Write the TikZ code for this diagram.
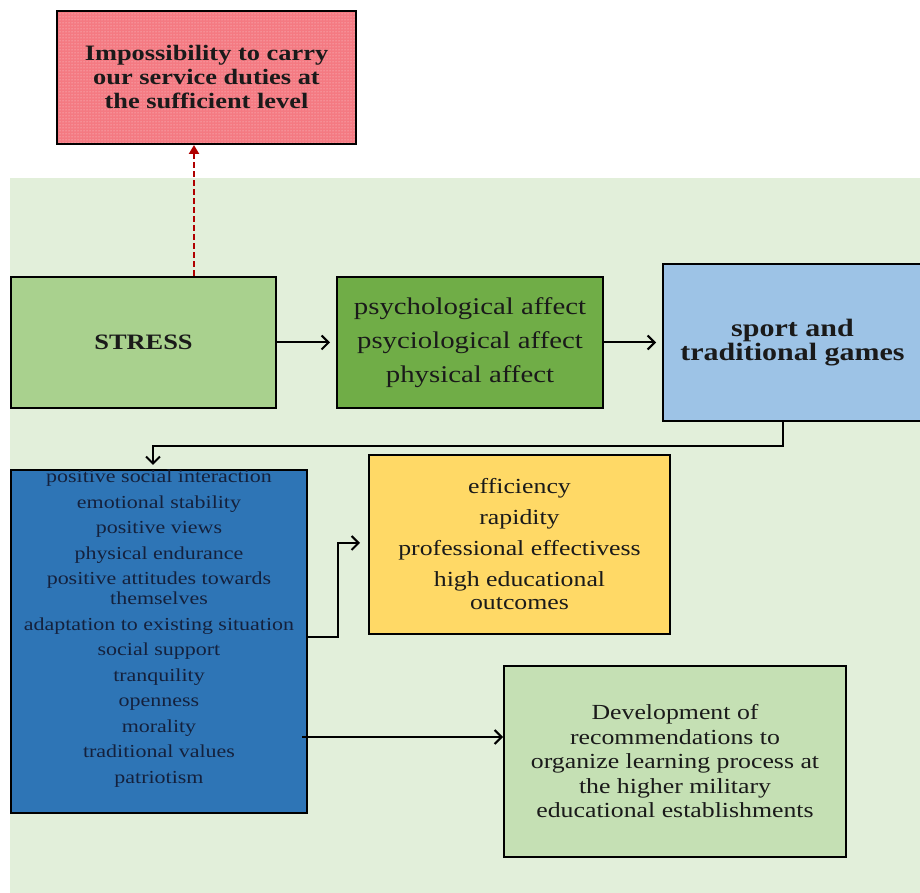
\documentclass[tikz,border=0pt]{standalone}
\usepackage{fontspec}
\setmainfont[FakeStretch=1.2]{Liberation Serif}
\usetikzlibrary{arrows.meta,patterns}
\definecolor{bgG}{HTML}{E2EFDA}
\definecolor{redF}{HTML}{F47A82}
\definecolor{stressF}{HTML}{A9D18E}
\definecolor{greenF}{HTML}{70AD47}
\definecolor{blueF}{HTML}{9DC3E6}
\definecolor{dblueF}{HTML}{2E75B6}
\definecolor{yellowF}{HTML}{FFD966}
\definecolor{lgreenF}{HTML}{C5E0B4}
\definecolor{darkred}{HTML}{B00000}
\definecolor{navy}{HTML}{14213D}
\definecolor{ink}{HTML}{1A1A1A}
\begin{document}
\begin{tikzpicture}[x=1pt,y=1pt,
  box/.style={draw=black, line width=2pt, inner sep=0pt, align=center, text=ink},
  arr/.style={line width=2pt, -{Straight Barb[length=7pt,width=14pt]}},
  redarr/.style={draw=darkred, line width=2.2pt, dash pattern=on 6pt off 3pt, -{Triangle[length=9pt,width=10pt]}}]
\useasboundingbox (0,0) rectangle (920,893);
\fill[bgG] (10,0) rectangle (920,715);

\node[box, minimum width=299, minimum height=133, preaction={fill=redF}, pattern=dots, pattern color=white!70!redF,
  font=\bfseries\fontsize{22}{24}\selectfont] (red) at (206.5,815.5)
  {Impossibility to carry\\our service duties at\\the sufficient level};

\node[box, fill=stressF, minimum width=265, minimum height=131,
  font=\bfseries\fontsize{22}{26}\selectfont] (stress) at (143.5,550.5) {STRESS};

\node[box, fill=greenF, minimum width=266, minimum height=131,
  font=\fontsize{24}{34}\selectfont] (green) at (470,550.5)
  {psychological affect\\psyciological affect\\physical affect};

\node[box, fill=blueF, minimum width=259, minimum height=157,
  font=\bfseries\fontsize{25}{24}\selectfont] (blue) at (792.5,550.5)
  {sport and\\traditional games};

\node[box, fill=dblueF, minimum width=296, minimum height=343] (dblue) at (159,251.5) {};
\node[align=center, text=navy, inner sep=0pt, font=\fontsize{18.3}{20}\selectfont, anchor=north] (dbluetext) at (159,423)
  {positive social interaction\\[5.5pt]emotional stability\\[5.5pt]positive views\\[5.5pt]physical endurance\\[5.5pt]positive attitudes towards\\themselves\\[5.5pt]adaptation to existing situation\\[5.5pt]social support\\[5.5pt]tranquility\\[5.5pt]openness\\[5.5pt]morality\\[5.5pt]traditional values\\[5.5pt]patriotism};

\node[box, fill=yellowF, minimum width=301, minimum height=179,
  font=\fontsize{21.5}{23}\selectfont] (yellow) at (519.5,348.5)
  {efficiency\\[8pt]rapidity\\[8pt]professional effectivess\\[8pt]high educational\\outcomes};

\node[box, fill=lgreenF, minimum width=342, minimum height=191,
  font=\fontsize{21.5}{24.5}\selectfont] (lgreen) at (675,131.5)
  {Development of\\recommendations to\\organize learning process at\\the higher military\\educational establishments};

% connectors
\draw[redarr] ([xshift=50.5]stress.north) -- ([xshift=50.5]stress.north |- red.south);
\draw[arr, shorten >=6pt] (stress) -- (green);
\draw[arr, shorten >=6pt] (green) -- (blue);
\draw[arr, shorten >=4pt] ([xshift=-9.5]blue.south) -- ++(0,-24) -| ([xshift=-6]dblue.north);
\draw[arr, shorten >=8pt] ([yshift=4.5]dblue.east) -- ++(30,0) |- ([yshift=1.5]yellow.west);
\coordinate (a3) at ([yshift=24.5]lgreen.west);
\draw[arr] ([xshift=-6pt]a3 -| dblue.east) -- (a3);
\end{tikzpicture}
\end{document}
